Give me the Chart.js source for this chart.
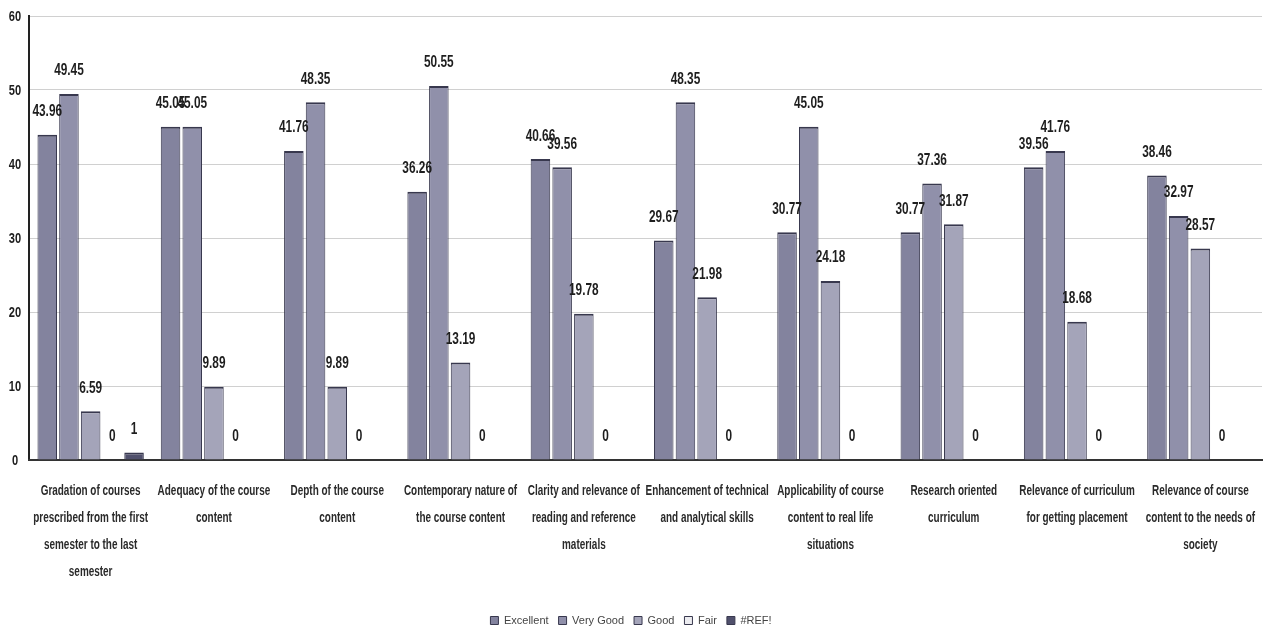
<!DOCTYPE html>
<html>
<head>
<meta charset="utf-8">
<script src="https://cdn.jsdelivr.net/npm/chart.js@4.4.1/dist/chart.umd.min.js"></script>
<style>
  html, body { margin: 0; padding: 0; background: #fff; }
  #wrap { width: 1267px; height: 636px; position: relative; }
</style>
</head>
<body>
<div id="wrap"><canvas id="chart"></canvas></div>
<script>
const categories = [
  ['Gradation of courses', 'prescribed from the first', 'semester to the last', 'semester'],
  ['Adequacy of the course', 'content'],
  ['Depth of the course', 'content'],
  ['Contemporary nature of', 'the course content'],
  ['Clarity and relevance of', 'reading and reference', 'materials'],
  ['Enhancement of technical', 'and analytical skills'],
  ['Applicability of course', 'content to real life', 'situations'],
  ['Research oriented', 'curriculum'],
  ['Relevance of curriculum', 'for getting placement'],
  ['Relevance of course', 'content to the needs of', 'society'],
];

const excellent = [43.96, 45.05, 41.76, 36.26, 40.66, 29.67, 30.77, 30.77, 39.56, 38.46];
const veryGood = [49.45, 45.05, 48.35, 50.55, 39.56, 48.35, 45.05, 37.36, 41.76, 32.97];
const good = [6.59, 9.89, 9.89, 13.19, 19.78, 21.98, 24.18, 31.87, 18.68, 28.57];
const fair = [0, 0, 0, 0, 0, 0, 0, 0, 0, 0];
const refErr = [1, null, null, null, null, null, null, null, null, null];

const yTicks = [0, 10, 20, 30, 40, 50, 60];

const FONT = "'Liberation Sans', Arial, sans-serif";
const SQUEEZE = 0.74; // the original uses a narrow font

function narrowText(ctx, text, x, y, sx) {
  ctx.save();
  ctx.translate(x, y);
  ctx.scale(sx, 1);
  ctx.fillText(text, 0, 0);
  ctx.restore();
}

// value labels, axis labels: drawn here so they can be condensed
const narrowLabels = {
  id: 'narrowLabels',
  afterDatasetsDraw(chart) {
    const { ctx, scales } = chart;
    ctx.save();
    ctx.textAlign = 'center';
    ctx.textBaseline = 'middle';
    ctx.fillStyle = '#1e1e1e';

    ctx.font = 'bold 16px ' + FONT;
    chart.data.datasets.forEach((ds, i) => {
      const meta = chart.getDatasetMeta(i);
      meta.data.forEach((bar, j) => {
        const v = ds.data[j];
        if (v === null || v === undefined) return;
        narrowText(ctx, String(v), bar.x, bar.y - 23, SQUEEZE);
      });
    });

    ctx.font = 'bold 15px ' + FONT;
    yTicks.forEach((v) => {
      narrowText(ctx, String(v), 15, scales.y.getPixelForValue(v) + 1, SQUEEZE);
    });

    ctx.font = 'bold 14px ' + FONT;
    ctx.fillStyle = '#2a2a2a';
    categories.forEach((lines, i) => {
      const x = scales.x.getPixelForValue(i);
      lines.forEach((line, k) => {
        narrowText(ctx, line, x, scales.x.top + 31 + k * 27, 0.71);
      });
    });
    ctx.restore();
  },
};

function barDataset(label, data, color) {
  return {
    label,
    data,
    backgroundColor: color,
    borderColor: '#38384e',
    borderWidth: { top: 2, left: 1, right: 1, bottom: 0 },
    borderSkipped: 'bottom',
    categoryPercentage: 0.88,
    barPercentage: 0.9,
  };
}

new Chart(document.getElementById('chart'), {
  type: 'bar',
  data: {
    labels: categories,
    datasets: [
      barDataset('Excellent', excellent, '#83839e'),
      barDataset('Very Good', veryGood, '#9090aa'),
      barDataset('Good', good, '#a4a4b9'),
      barDataset('Fair', fair, '#ececf0'),
      barDataset('#REF!', refErr, '#50506c'),
    ],
  },
  options: {
    responsive: true,
    maintainAspectRatio: false,
    animation: false,
    layout: { padding: { top: 16, right: 5, left: 0, bottom: 0 } },
    plugins: {
      legend: {
        position: 'bottom',
        labels: {
          boxWidth: 8,
          boxHeight: 8,
          padding: 10,
          color: '#444',
          font: { family: FONT, size: 11 },
        },
      },
      tooltip: { enabled: false },
    },
    scales: {
      y: {
        min: 0,
        max: 60,
        afterBuildTicks: (scale) => { scale.ticks = yTicks.map((v) => ({ value: v })); },
        afterFit: (scale) => { scale.width = 29; },
        grid: { color: '#d0d0d0', drawTicks: false },
        border: { color: '#222', width: 2 },
        ticks: { display: false },
      },
      x: {
        afterFit: (scale) => { scale.height = 145; },
        grid: { display: false },
        border: { color: '#333', width: 2 },
        ticks: { display: false },
      },
    },
  },
  plugins: [narrowLabels],
});
</script>
</body>
</html>
